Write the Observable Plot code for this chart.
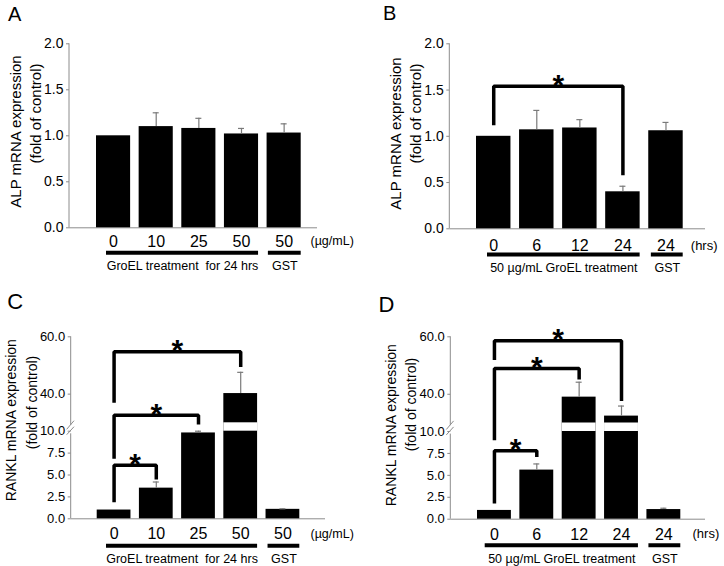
<!DOCTYPE html>
<html><head><meta charset="utf-8">
<script src="https://cdn.jsdelivr.net/npm/d3@7"></script>
<script src="https://cdn.jsdelivr.net/npm/@observablehq/plot@0.6"></script>
<style>
html,body{margin:0;padding:0;background:#fff;}
#fig{position:relative;width:724px;height:566px;background:#fff;overflow:hidden;font-family:"Liberation Sans",Arial,sans-serif;}
.panel{position:absolute;width:362px;height:283px;}
.panel svg{overflow:visible;display:block;}
.letter{position:absolute;line-height:1;color:#000;font-family:"Liberation Sans",Arial,sans-serif;}
g[aria-label^="y-axis"] line, g[aria-label^="y-axis"] path{stroke:#8c8c8c;}
.pA g[aria-label^="y-axis"] text,.pB g[aria-label^="y-axis"] text{font-size:14px;}
.pC g[aria-label^="y-axis"] text,.pD g[aria-label^="y-axis"] text{font-size:13px;}
g[aria-label^="x-axis"] text{font-size:16px;}
</style></head>
<body><div id="fig"></div>
<script>
// ---------- Panel A: ALP, GroEL dose (µg/mL) ----------
const catsA = ["0", "10", "25", "50", "GST"];
const tickLabelsA = ["0", "10", "25", "50", "50"];
const valuesA = [1.00, 1.10, 1.08, 1.02, 1.03];
const errorsA = [0, 0.15, 0.11, 0.06, 0.10];
const yTicksA = [0, 0.5, 1.0, 1.5, 2.0];
const groupsA = [{from: "0", to: "50", label: "GroEL treatment  for 24 hrs"}, {from: "GST", to: "GST", label: "GST"}];
const bracketsA = [];

// ---------- Panel B: ALP, 50 µg/mL GroEL over time (hrs) ----------
const catsB = ["0", "6", "12", "24", "GST"];
const tickLabelsB = ["0", "6", "12", "24", "24"];
const valuesB = [1.00, 1.07, 1.09, 0.40, 1.06];
const errorsB = [0, 0.21, 0.09, 0.06, 0.09];
const yTicksB = [0, 0.5, 1.0, 1.5, 2.0];
const groupsB = [{from: "0", to: "24", label: "50 µg/mL GroEL treatment"}, {from: "GST", to: "GST", label: "GST"}];
const bracketsB = [{from: "0", to: "24", start: 1.12, top: 1.54, end: 0.58}];

// ---------- Panel C: RANKL, GroEL dose (µg/mL) ----------
const catsC = ["0", "10", "25", "50", "GST"];
const tickLabelsC = ["0", "10", "25", "50", "50"];
const valuesC = [1.00, 3.5, 9.8, 40.2, 1.08];
const errorsC = [0, 0.7, 0.2, 7.4, 0.06];
const yTicksC = [0, 2.5, 5.0, 7.5, 10.0, 40.0, 60.0];
const yBreakC = [10, 30];
const groupsC = [{from: "0", to: "50", label: "GroEL treatment  for 24 hrs"}, {from: "GST", to: "GST", label: "GST"}];
const bracketsC = [
  {from: "0", to: "10", start: 1.9, top: 6.1, end: 4.5},
  {from: "0", to: "25", start: 6.85, top: 32.6, end: 26},
  {from: "0", to: "50", start: 37, top: 54.8, end: 49.5}
];

// ---------- Panel D: RANKL, 50 µg/mL GroEL over time (hrs) ----------
const catsD = ["0", "6", "12", "24", "GST"];
const tickLabelsD = ["0", "6", "12", "24", "24"];
const valuesD = [1.00, 5.6, 39.0, 32.4, 1.10];
const errorsD = [0, 0.7, 5.2, 3.5, 0.15];
const yTicksD = [0, 2.5, 5.0, 7.5, 10.0, 40.0, 60.0];
const yBreakD = [10, 30];
const groupsD = [{from: "0", to: "24", label: "50 µg/mL GroEL treatment"}, {from: "GST", to: "GST", label: "GST"}];
const bracketsD = [
  {from: "0", to: "6", start: 1.8, top: 7.8, end: 7.1},
  {from: "0", to: "12", start: 9.0, top: 49.0, end: 45.1},
  {from: "0", to: "24", start: 51.9, top: 58.6, end: 37.7}
];

const yLabelALP = ["ALP mRNA expression", "(fold of control)"];
const yLabelRANKL = ["RANKL mRNA expression", "(fold of control)"];

// ---------- styling / layout ----------
const AXIS = "#8c8c8c", ERR = "#7a7a7a", FONT = '"Liberation Sans", Arial, sans-serif';
const W = 362, H = 283;

function yAxisLine(yDomain, yBreak) {
  return (index, scales, values, dims) => {
    const y = scales.y, x0 = dims.marginLeft;
    const g = d3.create("svg:g").attr("stroke", AXIS).attr("stroke-width", 1).attr("fill", "none");
    const bot = y(yDomain[0]), top = y(yDomain[yDomain.length - 1]);
    if (!yBreak) {
      g.append("line").attr("x1", x0).attr("x2", x0).attr("y1", bot).attr("y2", top);
    } else {
      const ylo = y(yBreak[0]), yhi = y(yBreak[1]);
      g.append("line").attr("x1", x0).attr("x2", x0).attr("y1", bot).attr("y2", ylo + 2.6);
      g.append("line").attr("x1", x0).attr("x2", x0).attr("y1", yhi + 2.7).attr("y2", top);
      g.append("line").attr("x1", x0 - 4).attr("y1", yhi + 7).attr("x2", x0 + 3.3).attr("y2", yhi - 1.6);
      g.append("line").attr("x1", x0 - 4).attr("y1", yhi + 12.4).attr("x2", x0 + 3.3).attr("y2", yhi + 4.4);
    }
    return g.node();
  };
}

function panel(cfg) {
  const {cats, tickLabels, values, errors, yDomain, yTicks, yBreak, brackets, groups, unit, yLabel, L} = cfg;
  const data = cats.map((c, i) => ({cat: c, value: values[i], err: errors[i]}));
  const n = cats.length;
  const step = (L.xRange[1] - L.xRange[0]) / (n - 0.2);
  const bw = step * 0.8;
  const idx = c => cats.indexOf(c);
  const base = H - L.mb;
  const frameMidY = (L.mt + base) / 2;
  const marks = [];
  marks.push(Plot.ruleY([yDomain[0]], {stroke: AXIS, strokeWidth: 1}));
  marks.push(yAxisLine(yDomain, yBreak));
  marks.push(Plot.barY(data, {x: "cat", y: "value", fill: "#000"}));
  if (yBreak) {
    marks.push(Plot.barY(data.filter(d => d.value > yBreak[1]), {x: "cat", y1: () => yBreak[0], y2: () => yBreak[1], fill: "#fff"}));
  }
  const withErr = data.filter(d => d.err > 0);
  marks.push(Plot.ruleX(withErr, {x: "cat", y1: "value", y2: d => d.value + d.err, stroke: ERR, strokeWidth: 1.2}));
  marks.push(Plot.tickY(withErr, {x: "cat", y: d => d.value + d.err, stroke: ERR, strokeWidth: 1.2, insetLeft: (bw - 6) / 2, insetRight: (bw - 6) / 2}));
  brackets.forEach(b => {
    const pts = [{c: b.from, v: b.start}, {c: b.from, v: b.top}, {c: b.to, v: b.top}, {c: b.to, v: b.end}];
    marks.push(Plot.line(pts, {x: "c", y: "v", stroke: "#000", strokeWidth: 3.5, strokeLinejoin: "miter", strokeLinecap: "butt"}));
    marks.push(Plot.text([b], {x: "from", y: "top", text: () => "*", dx: (idx(b.to) - idx(b.from)) * step / 2, dy: -1, fontSize: 30, fontWeight: "bold", fill: "#000", lineAnchor: "middle"}));
  });
  groups.forEach((g, k) => {
    marks.push(Plot.ruleY([g], {x1: "from", x2: "to", y: () => yDomain[0], dy: L.ulY - base, stroke: "#000", strokeWidth: 4, insetLeft: L.ulInset[k]}));
    const kk = idx(g.to) - idx(g.from);
    marks.push(Plot.text([g], {x: "from", y: () => yDomain[0], text: "label", dx: (L.ulInset[k] + kk * step) / 2, dy: L.glY - base, fontSize: 12.5, lineAnchor: "middle", fill: "#000"}));
  });
  marks.push(Plot.text([unit], {frameAnchor: "bottom-right", textAnchor: "start", lineAnchor: "middle", dx: L.unitX - (W - L.mr), dy: L.unitY - base, fontSize: L.unitFs, fill: "#000"}));
  yLabel.forEach((t, k) => {
    marks.push(Plot.text([t], {frameAnchor: "left", rotate: -90, textAnchor: "middle", lineAnchor: "middle", dx: L.ylX[k] - L.ml, dy: L.ylY[k] - frameMidY, fontSize: L.ylFs, fill: "#000"}));
  });
  const svg = Plot.plot({
    width: W, height: H,
    marginLeft: L.ml, marginRight: L.mr, marginTop: L.mt, marginBottom: L.mb,
    style: {fontFamily: FONT, fontSize: "14px", color: "#000", background: "none", overflow: "visible"},
    x: {type: "band", domain: cats, range: L.xRange, paddingInner: 0.2, paddingOuter: 0, round: false,
        tickSize: 0, tickPadding: L.xPad, tickFormat: d => tickLabels[idx(d)], label: null},
    y: {type: "linear", domain: yDomain, range: L.yRange, ticks: yTicks, tickFormat: d => d.toFixed(1),
        tickSize: 3, tickPadding: 3, label: null},
    marks
  });
  const div = document.createElement("div");
  div.className = "panel " + cfg.cls;
  div.style.left = L.left + "px";
  div.style.top = L.top + "px";
  div.appendChild(svg);
  document.getElementById("fig").appendChild(div);
}

panel({cls: "pA", cats: catsA, tickLabels: tickLabelsA, values: valuesA, errors: errorsA,
  yDomain: [0, 2], yTicks: yTicksA, yBreak: null, brackets: bracketsA, groups: groupsA,
  unit: "(µg/mL)", yLabel: yLabelALP,
  L: {left: 0, top: 0, ml: 69, mr: 45, mt: 43.3, mb: 55.7, xRange: [96, 300.7], yRange: [227.3, 43.3],
      xPad: 7.5, ulY: 252.3, glY: 265.7, ulInset: [10, 1.3], unitX: 310, unitY: 240.5, unitFs: 12.5,
      ylX: [16, 36], ylY: [131, 113], ylFs: 15}});

panel({cls: "pB", cats: catsB, tickLabels: tickLabelsB, values: valuesB, errors: errorsB,
  yDomain: [0, 2], yTicks: yTicksB, yBreak: null, brackets: bracketsB, groups: groupsB,
  unit: "(hrs)", yLabel: yLabelALP,
  L: {left: 362, top: 0, ml: 87.3, mr: 19, mt: 43.3, mb: 54.7, xRange: [114, 320.7], yRange: [228.3, 43.3],
      xPad: 10.8, ulY: 254, glY: 267.7, ulInset: [11, 2.6], unitX: 328.3, unitY: 245, unitFs: 13,
      ylX: [33.3, 53.3], ylY: [133, 113], ylFs: 15}});

panel({cls: "pC", cats: catsC, tickLabels: tickLabelsC, values: valuesC, errors: errorsC,
  yDomain: [0, 10, 30, 60], yTicks: yTicksC, yBreak: yBreakC, brackets: bracketsC, groups: groupsC,
  unit: "(µg/mL)", yLabel: yLabelRANKL,
  L: {left: 0, top: 283, ml: 70.7, mr: 37, mt: 53.3, mb: 47.7, xRange: [96.7, 299.3], yRange: [235.3, 147.7, 139.3, 53.3],
      xPad: 9, ulY: 262.3, glY: 275.7, ulInset: [9.3, 2], unitX: 310, unitY: 250, unitFs: 12.5,
      ylX: [10.8, 31.7], ylY: [136.7, 119], ylFs: 14}});

panel({cls: "pD", cats: catsD, tickLabels: tickLabelsD, values: valuesD, errors: errorsD,
  yDomain: [0, 10, 30, 60], yTicks: yTicksD, yBreak: yBreakD, brackets: bracketsD, groups: groupsD,
  unit: "(hrs)", yLabel: yLabelRANKL,
  L: {left: 362, top: 283, ml: 88.3, mr: 19, mt: 53.3, mb: 47.3, xRange: [115, 318.3], yRange: [235.7, 148, 139.5, 53.3],
      xPad: 9.3, ulY: 261.7, glY: 275, ulInset: [7.7, 2], unitX: 330, unitY: 250.7, unitFs: 13,
      ylX: [29.2, 49.2], ylY: [141.7, 121], ylFs: 14}});

// panel letters
const letters = [
  {t: "A", x: 8, y: 3.8, fs: 20},
  {t: "B", x: 383, y: 3.1, fs: 20},
  {t: "C", x: 7.2, y: 291.1, fs: 22},
  {t: "D", x: 378.6, y: 294.4, fs: 22}
];
letters.forEach(l => {
  const d = document.createElement("div");
  d.className = "letter";
  d.textContent = l.t;
  d.style.left = l.x + "px";
  d.style.top = l.y + "px";
  d.style.fontSize = l.fs + "px";
  document.getElementById("fig").appendChild(d);
});
</script></body></html>
